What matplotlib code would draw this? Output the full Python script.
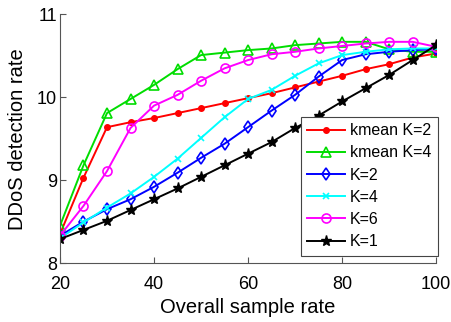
import numpy as np
import matplotlib
matplotlib.use("Agg")
import matplotlib.pyplot as plt

plt.rcParams['font.family'] = ['Liberation Sans', 'DejaVu Sans']

rate = [20, 25, 30, 35, 40, 45, 50, 55, 60, 65, 70, 75, 80, 85, 90, 95, 100]

kmean_k2 = [8.35, 9.03, 9.64, 9.70, 9.75, 9.81, 9.87, 9.93, 9.99, 10.05, 10.12,
            10.19, 10.26, 10.34, 10.40, 10.48, 10.53]
kmean_k4 = [8.45, 9.18, 9.81, 9.98, 10.15, 10.34, 10.51, 10.54, 10.57, 10.59, 10.63,
            10.65, 10.67, 10.67, 10.58, 10.55, 10.55]
k2 = [8.33, 8.50, 8.65, 8.77, 8.92, 9.09, 9.27, 9.44, 9.64, 9.84, 10.03,
      10.25, 10.45, 10.52, 10.55, 10.57, 10.58]
k4 = [8.30, 8.49, 8.67, 8.84, 9.04, 9.26, 9.51, 9.76, 9.98, 10.09, 10.26,
      10.41, 10.51, 10.55, 10.58, 10.59, 10.59]
k6 = [8.33, 8.69, 9.11, 9.63, 9.90, 10.03, 10.20, 10.35, 10.45, 10.52, 10.55,
      10.59, 10.62, 10.65, 10.67, 10.67, 10.61]
k1 = [8.29, 8.40, 8.51, 8.64, 8.77, 8.90, 9.04, 9.18, 9.32, 9.46, 9.63,
      9.78, 9.95, 10.11, 10.27, 10.45, 10.63]

fig = plt.figure(figsize=(4.51, 3.22), dpi=100)
ax = fig.add_axes([0.133, 0.183, 0.834, 0.772])

lw = 1.4
ax.plot(rate, kmean_k2, color='#ff0000', marker='o', ms=4, lw=lw, label='kmean K=2')
ax.plot(rate, kmean_k4, color='#00dd00', marker='^', ms=6.5, mfc='none', mew=1.2, lw=lw, label='kmean K=4')
ax.plot(rate, k2, color='#0000ff', marker='d', ms=6.5, mfc='none', mew=1.2, lw=lw, label='K=2')
ax.plot(rate, k4, color='#00ffff', marker='x', ms=4, mew=1.2, lw=lw, label='K=4')
ax.plot(rate, k6, color='#ff00ff', marker='o', ms=6.5, mfc='none', mew=1.2, lw=lw, label='K=6')
ax.plot(rate, k1, color='black', marker='*', ms=8, lw=lw, label='K=1')

ax.set_xlim(20, 100)
ax.set_ylim(8, 11)
ax.set_xticks([20, 40, 60, 80, 100])
ax.set_yticks([8, 9, 10, 11])
ax.tick_params(direction='in', labelsize=13, color='#555555', length=4, pad=2)
ax.tick_params(axis='x', pad=9)
for s in ['top', 'right']:
    ax.spines[s].set_visible(False)
for s in ['left', 'bottom']:
    ax.spines[s].set_color('#555555')
    ax.spines[s].set_linewidth(0.8)

ax.set_xlabel('Overall sample rate', fontsize=14.5, labelpad=4)
ax.set_ylabel('DDoS detection rate', fontsize=14.5, labelpad=7)

leg = ax.legend(loc='lower right', bbox_to_anchor=(1.005, 0.03), fontsize=11.5,
                fancybox=False, framealpha=1, edgecolor='#444444',
                handlelength=2.4, handletextpad=0.3, labelspacing=0.45,
                borderpad=0.4, borderaxespad=0)
leg.get_frame().set_linewidth(0.8)

fig.savefig('out.png', dpi=100)
